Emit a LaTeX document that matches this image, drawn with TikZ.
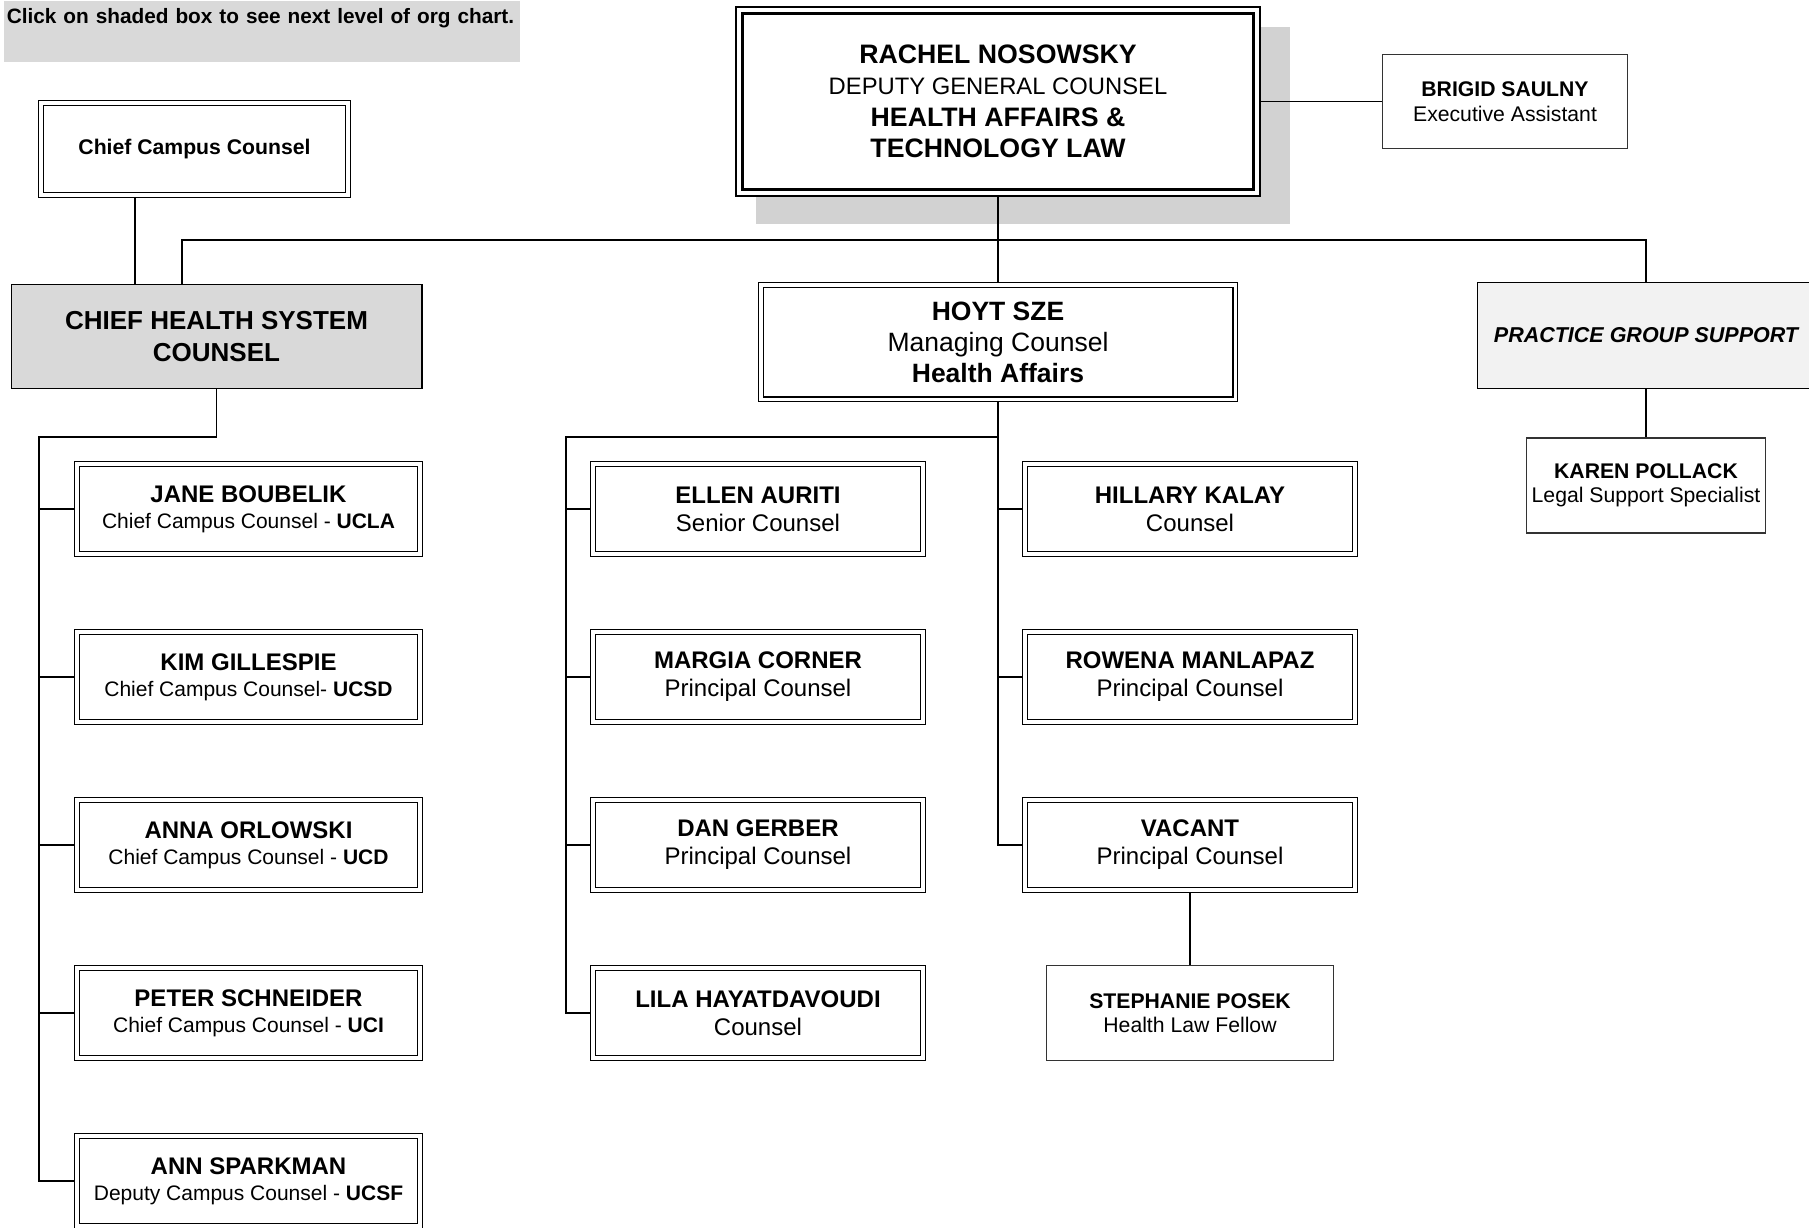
\documentclass[tikz,border=0pt]{standalone}
\usepackage{fontspec}
\setmainfont{Liberation Sans}
\usetikzlibrary{positioning,calc,backgrounds}
\newcommand{\campusname}[1]{{\fontsize{24}{26}\selectfont\bfseries #1}}
\newcommand{\headname}[1]{{\fontsize{26.7}{31.5}\selectfont\bfseries #1}}

\begin{document}
\begin{tikzpicture}[line width=1.6pt,
  dbl/.style={rectangle,draw,double,double distance=3.4pt,line width=1.4pt,fill=white,inner sep=0pt,align=center,minimum height=89.8pt},
  campus/.style={dbl,minimum width=342.8pt,font=\fontsize{21}{26}\selectfont},
  counsel/.style={dbl,minimum width=329.8pt,font=\fontsize{24}{28}\selectfont},
  staff/.style={rectangle,draw=black!80,line width=1.1pt,fill=white,inner sep=0pt,align=center,minimum height=95pt,font=\fontsize{21.2}{24.5}\selectfont},
  shaded/.style={rectangle,draw,line width=1.3pt,inner sep=0pt,align=center,minimum height=104pt},
  link/.style={line width=1.6pt}]

  \useasboundingbox (0,0) rectangle (1809pt,-1227pt);

  % Hinweis oben links
  \node[rectangle,fill=gray!30,anchor=north west,inner xsep=3pt,inner ysep=4pt,text width=510pt,
        text height=18.5pt,text depth=34.5pt,align=left,font=\fontsize{20.8}{24}\selectfont\bfseries] (note) at (3pt,0pt)
   {Click on shaded box to see next level of org chart.};

  % 1. Ebene
  \node[dbl,line width=2.3pt,double distance=4pt,minimum width=517.4pt,minimum height=182.4pt,
        font=\fontsize{23.8}{31.5}\selectfont] (rachel) at (998pt,-101.5pt)
   {\headname{RACHEL NOSOWSKY}\\DEPUTY GENERAL COUNSEL\\\headname{HEALTH AFFAIRS \&}\\\headname{TECHNOLOGY LAW}};
  \node[staff,minimum width=244.7pt,minimum height=94.7pt] (brigid) [right=507pt of rachel.center,anchor=center]
   {\textbf{BRIGID SAULNY}\\Executive Assistant};

  % 2. Ebene
  \node[dbl,minimum width=474.4pt,minimum height=114.4pt,font=\fontsize{26.5}{31}\selectfont] (hoyt) [below=240.5pt of rachel.center,anchor=center]
   {\textbf{HOYT SZE}\\Managing Counsel\\\textbf{Health Affairs}};
  \node[shaded,fill=gray!30,minimum width=410.7pt,font=\fontsize{26}{31.7}\selectfont\bfseries] (chs) [above left=5.5pt and 781.5pt of hoyt.center,anchor=center]
   {CHIEF HEALTH SYSTEM\\COUNSEL};
  \node[shaded,fill=gray!10,minimum width=336.7pt,minimum height=106pt,font=\fontsize{21.5}{24}\selectfont\bfseries\itshape] (pgs) [above right=6.5pt and 648pt of hoyt.center,anchor=center]
   {PRACTICE GROUP SUPPORT};
  \node[dbl,minimum width=306.8pt,minimum height=91.8pt,font=\fontsize{21.2}{24}\selectfont\bfseries] (ccc) [above left=187.5pt and 22pt of chs.center,anchor=center]
   {Chief Campus Counsel};
  \node[staff,minimum width=239pt] (karen) [below=150pt of pgs.center,anchor=center]
   {\textbf{KAREN POLLACK}\\Legal Support Specialist};

  % Campus
  \node[campus] (jane)  [below right=172.5pt and 32pt of chs.center,anchor=center] {\campusname{JANE BOUBELIK}\\Chief Campus Counsel - \textbf{UCLA}};
  \node[campus] (kim)   [below=168pt of jane.center,anchor=center]  {\campusname{KIM GILLESPIE}\\Chief Campus Counsel- \textbf{UCSD}};
  \node[campus] (anna)  [below=168pt of kim.center,anchor=center]   {\campusname{ANNA ORLOWSKI}\\Chief Campus Counsel - \textbf{UCD}};
  \node[campus] (peter) [below=168pt of anna.center,anchor=center]  {\campusname{PETER SCHNEIDER}\\Chief Campus Counsel - \textbf{UCI}};
  \node[campus] (ann)   [below=168pt of peter.center,anchor=center] {\campusname{ANN SPARKMAN}\\Deputy Campus Counsel - \textbf{UCSF}};

  % Health Affairs
  \node[counsel] (ellen)   [below left=167pt and 240pt of hoyt.center,anchor=center] {\textbf{ELLEN AURITI}\\Senior Counsel};
  \node[counsel] (margia)  [below=168pt of ellen.center,anchor=center]  {\textbf{MARGIA CORNER}\\Principal Counsel};
  \node[counsel] (dan)     [below=168pt of margia.center,anchor=center] {\textbf{DAN GERBER}\\Principal Counsel};
  \node[counsel] (lila)    [below=168pt of dan.center,anchor=center]    {\textbf{LILA HAYATDAVOUDI}\\Counsel};
  \node[counsel] (hillary) [below right=167pt and 192pt of hoyt.center,anchor=center] {\textbf{HILLARY KALAY}\\Counsel};
  \node[counsel] (rowena)  [below=168pt of hillary.center,anchor=center] {\textbf{ROWENA MANLAPAZ}\\Principal Counsel};
  \node[counsel] (vacant)  [below=168pt of rowena.center,anchor=center]  {\textbf{VACANT}\\Principal Counsel};
  \node[staff,minimum width=287pt] (stephanie) [below=168pt of vacant.center,anchor=center]
   {\textbf{STEPHANIE POSEK}\\Health Law Fellow};

  % Verbindungspunkte
  \coordinate (topbus)  at ($(rachel.center)+(0,-138.5pt)$);
  \coordinate (chsin)   at ($(chs.center)+(-34.5pt,96.5pt)$);
  \coordinate (cccout)  at ($(ccc.south)+(-59.5pt,0)$);
  \coordinate (chsbus)  at ($(chs.center)+(0,-100.5pt)$);
  \coordinate (ltrunk)  at ($(jane.center)+(-209.5pt,0)$);
  \coordinate (hoytbus) at ($(hoyt.center)+(0,-95pt)$);
  \coordinate (mtrunk)  at ($(ellen.center)+(-192pt,0)$);

  \begin{scope}[on background layer]
    \fill[gray!35] ($(rachel.south west)+(17.7pt,-30.3pt)$) rectangle ($(rachel.north east)+(32.3pt,-17.7pt)$);

    \draw[link] (rachel) -- (brigid);
    \draw[link] (rachel) -- (topbus) -- (hoyt);
    \draw[link] (chsin |- chs.north) -- (chsin) -| (pgs.north);
    \draw[link] (cccout) -- (cccout |- chs.north);
    \draw[link] (pgs) -- (karen);

    \draw[link] (chs) -- (chsbus) -| (ltrunk |- ann.center) -- (ann);
    \foreach \n in {jane,kim,anna,peter}
      \draw[link] (ltrunk |- \n.center) -- (\n);

    \draw[link] (hoyt) -- (hoytbus) -| (mtrunk |- lila.center) -- (lila);
    \foreach \n in {ellen,margia,dan}
      \draw[link] (mtrunk |- \n.center) -- (\n);
    \draw[link] (hoytbus) -- (hoytbus |- vacant.center) -- (vacant);
    \foreach \n in {hillary,rowena}
      \draw[link] (hoytbus |- \n.center) -- (\n);
    \draw[link] (vacant) -- (stephanie);
  \end{scope}

\end{tikzpicture}
\end{document}
